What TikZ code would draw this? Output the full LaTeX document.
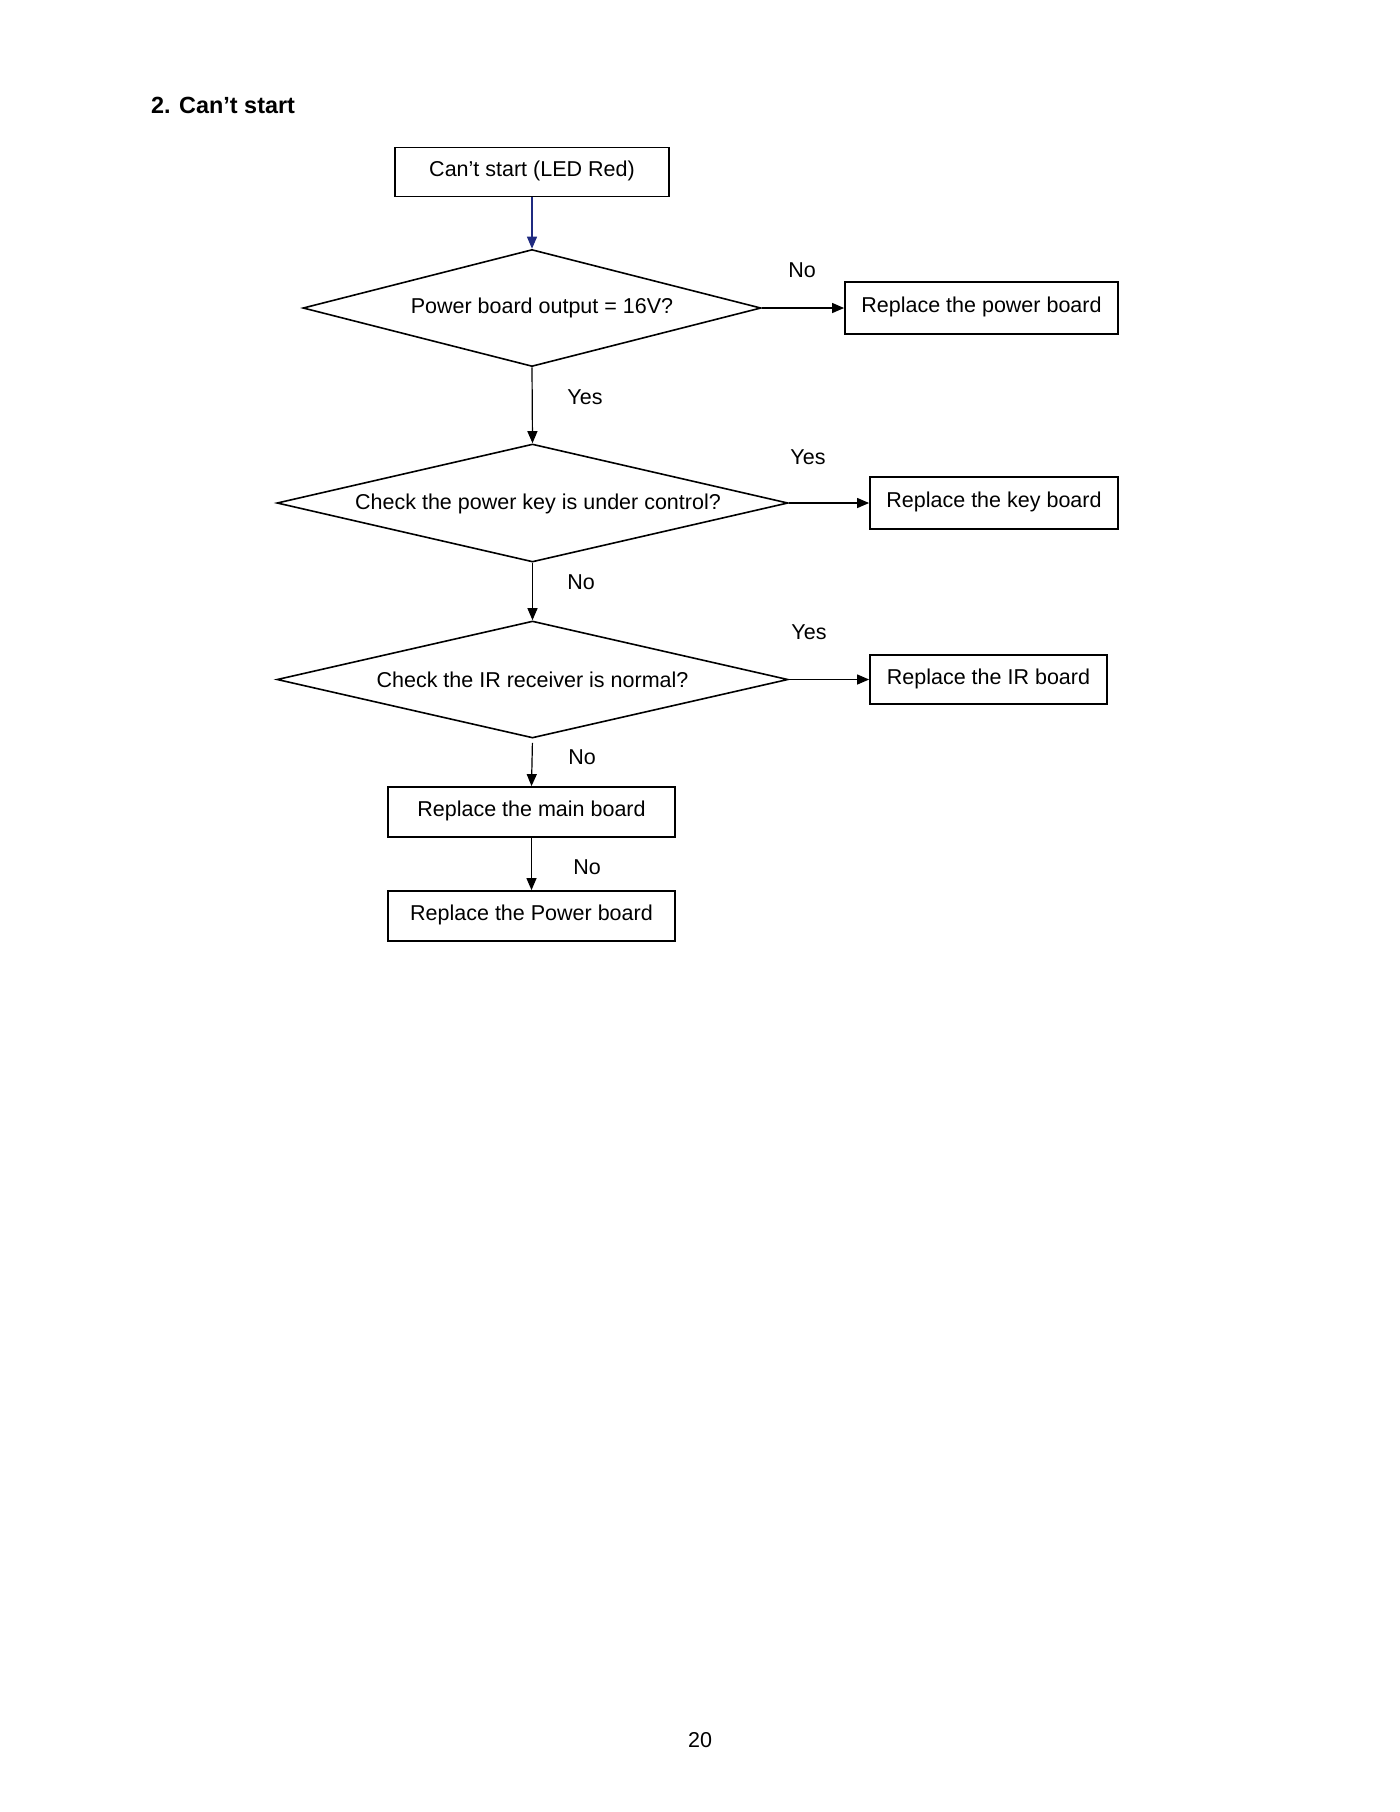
\documentclass[tikz,border=0pt]{standalone}
\usepackage{fontspec}
\setmainfont{Liberation Sans}
\usetikzlibrary{shapes.geometric,arrows.meta}
\definecolor{navyline}{HTML}{1F2A80}
\begin{document}
\begin{tikzpicture}[x=0.5pt,y=-0.5pt,
  every node/.style={font=\fontsize{10.75}{13}\selectfont},
  box/.style={draw, line width=0.9pt, inner sep=0pt, text height=8pt, text depth=3.2pt},
  dec/.style={draw, diamond, line width=0.8pt, inner sep=0pt},
  conn/.style={line width=0.6pt, -{Triangle[length=6pt,width=5pt]}},
  lbl/.style={inner sep=0pt}]
\useasboundingbox (0,0) rectangle (1400,1812);

\node[anchor=base west, font=\fontsize{11.7}{14}\selectfont\bfseries] (title) at (144,113) {2. Can’t start};

\node[box, minimum width=137pt, minimum height=24.5pt] (start) at (532,172) {Can’t start (LED Red)};
\node[dec, minimum width=229pt, minimum height=58.5pt] (d1) at (532,308) {};
\node[lbl] (t1) at (542,308) {Power board output = 16V?};
\node[box, minimum width=136.5pt, minimum height=26pt] (pwr) at (981.5,308) {Replace the power board};
\node[dec, minimum width=255.5pt, minimum height=59pt] (d2) at (532.5,503) {};
\node[lbl] (t2) at (538,504) {Check the power key is under control?};
\node[box, minimum width=124pt, minimum height=26pt] (key) at (994,503) {Replace the key board};
\node[dec, minimum width=255.5pt, minimum height=58.5pt] (d3) at (532.5,679.5) {};
\node[lbl] (t3) at (532.5,680) {Check the IR receiver is normal?};
\node[box, minimum width=118.5pt, minimum height=24.5pt] (ir) at (988.5,679.5) {Replace the IR board};
\node[box, minimum width=143.5pt, minimum height=25pt] (main) at (531.5,812) {Replace the main board};
\node[box, minimum width=143.5pt, minimum height=25pt] (pwr2) at (531.5,916) {Replace the Power board};

\draw[conn, draw=navyline, fill=navyline] (start.south) -- (d1.north);
\draw[conn] (d1.east) -- (pwr.west);
\draw[conn] (d1.south) -- (d2.north);
\draw[conn] (d2.east) -- (key.west);
\draw[conn] (d2.south) -- (d3.north);
\draw[conn] (d3.east) -- (ir.west);
\draw[conn, shorten <=2pt] (d3.south) -- (main.north);
\draw[conn] (main.south) -- (pwr2.north);

\node[lbl] (l1) at (802,270) {No};
\node[lbl] (l2) at (585,397) {Yes};
\node[lbl] (l3) at (808,457) {Yes};
\node[lbl] (l4) at (581,582) {No};
\node[lbl] (l5) at (809,632) {Yes};
\node[lbl] (l6) at (582,757) {No};
\node[lbl] (l7) at (587,867) {No};

\node[anchor=base] (page) at (700,1747) {20};
\end{tikzpicture}
\end{document}
